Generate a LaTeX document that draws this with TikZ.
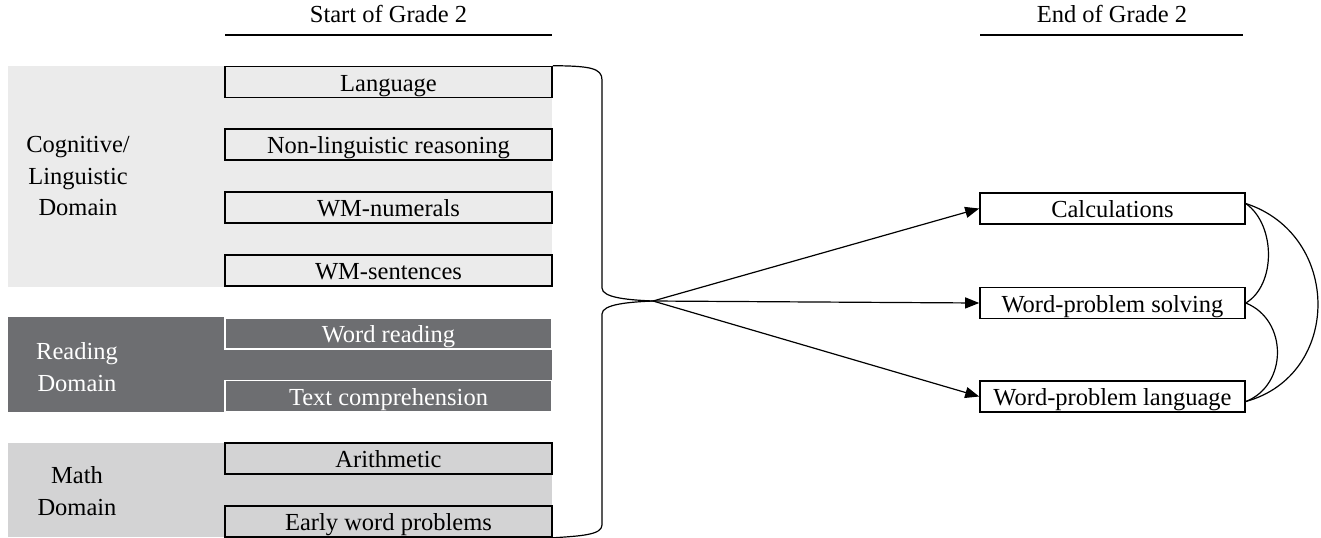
\documentclass[tikz,border=0pt]{standalone}
\usepackage{fontspec}
\setmainfont{Liberation Serif}
\usetikzlibrary{arrows.meta, positioning}
\definecolor{cogColor}{HTML}{EBEBEB}
\definecolor{readColor}{HTML}{6D6E71}
\definecolor{mathColor}{HTML}{D3D3D4}

\begin{document}
\begin{tikzpicture}[x=0.5pt, y=-0.5pt,
        every node/.style={font=\fontsize{12.25}{15.75}\selectfont},
        predBox/.style={rectangle, draw=black, line width=0.8pt, minimum width=163.5pt, minimum height=15.5pt, inner sep=0pt, text height=9pt, text depth=0pt},
        readBox/.style={predBox, draw=white, fill=readColor, text=white},
        outBox/.style={predBox, minimum width=132.5pt},
        domainLabel/.style={align=center},
        link/.style={line width=0.6pt},
        arrowLink/.style={link, -{Triangle[length=7pt, width=5.5pt]}}]
    \useasboundingbox (0,0) rectangle (1321,537);

    % domain panels
    \fill[cogColor] (8,66) rectangle (552,287);
    \fill[readColor] (8,317) rectangle (552,412);
    \fill[mathColor] (8,443) rectangle (552,537);

    % headers
    \node (startHead) at (388.5,14) {Start of Grade 2};
    \node (endHead) at (1112,14) {End of Grade 2};
    \draw[link] (225,35) -- (552,35);
    \draw[link] (980,35) -- (1243,35);

    % domains
    \node[domainLabel] (cogDomain) at (78,176) {Cognitive/\\Linguistic\\Domain};
    \node[domainLabel, text=white] (readDomain) at (77,367) {Reading\\Domain};
    \node[domainLabel] (mathDomain) at (77,491) {Math\\Domain};

    % start of grade 2 predictors
    \node[predBox] (lang) at (388.5,82) {Language};
    \node[predBox] (nonLing) at (388.5,144.5) {Non-linguistic reasoning};
    \node[predBox] (wmNum) at (388.5,207.5) {WM-numerals};
    \node[predBox] (wmSent) at (388.5,270.5) {WM-sentences};
    \node[readBox] (wordRead) at (388.5,333.5) {Word reading};
    \node[readBox] (textComp) at (388.5,396) {Text comprehension};
    \node[predBox] (arith) at (388.5,458.5) {Arithmetic};
    \node[predBox] (earlyWP) at (388.5,521.5) {Early word problems};

    % end of grade 2 outcomes
    \node[outBox] (calc) at (1112.5,208.5) {Calculations};
    \node[outBox] (wpSolve) at (1112.5,303) {Word-problem solving};
    \node[outBox] (wpLang) at (1112.5,396.5) {Word-problem language};

    % brace
    \coordinate (hub) at (653,301);
    \draw[link] (lang.north east) .. controls (590,66) and (602,68) .. (602,80)
        -- (602,288) .. controls (602,298) and (630,300) .. (hub);
    \draw[link] (hub) .. controls (630,302) and (602,304) .. (602,314)
        -- (602,525) .. controls (602,535) and (580,536) .. (earlyWP.south east);

    % paths
    \draw[arrowLink] (hub) -- (calc.west);
    \draw[arrowLink] (hub) -- (wpSolve.west);
    \draw[arrowLink] (hub) -- (wpLang.west);

    % correlations
    \draw[link] ([yshift=2.5pt]calc.east) .. controls (1276,225) and (1276,285) .. (wpSolve.east);
    \draw[link] (wpSolve.east) .. controls (1288,320) and (1288,385) .. ([yshift=-2.5pt]wpLang.east);
    \draw[link] ([yshift=2.5pt]calc.east) .. controls (1342,235) and (1342,375) .. ([yshift=-2.5pt]wpLang.east);
\end{tikzpicture}
\end{document}
